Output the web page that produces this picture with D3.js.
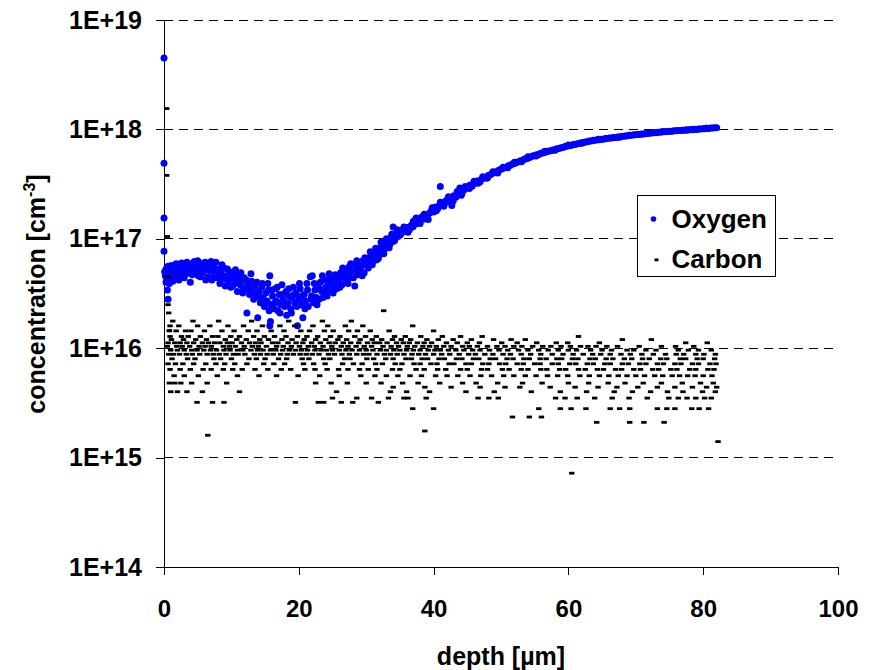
<!DOCTYPE html>
<html>
<head>
<meta charset="utf-8">
<script src="https://cdn.jsdelivr.net/npm/d3@7"></script>
<style>
  body { margin: 0; background: #fff; }
  text { font-family: "Liberation Sans", Arial, sans-serif; font-weight: bold; }
</style>
</head>
<body>
<div id="chart"></div>
<script>
// oxygen / carbon depth profile, log concentration vs depth

// axis ticks
var xTicks = [0, 20, 40, 60, 80, 100];
var yTicks = [1e14, 1e15, 1e16, 1e17, 1e18, 1e19];
var yTickLabels = ["1E+14", "1E+15", "1E+16", "1E+17", "1E+18", "1E+19"];
var seriesNames = ["Oxygen", "Carbon"];

// oxygen [depth um, conc cm-3]
var oxygenSurface = [[0, 4.5e18], [0, 4.9e17], [0, 1.55e17], [0, 7.7e16]];

var oxygenShallow = [
  [0.1, 5.0e16], [0.2, 4.6e16], [0.3, 5.3e16], [0.4, 4.3e16], [0.5, 3.4e16], [0.6, 2.8e16], [0.7, 4.8e16],
  [0.8, 3.9e16], [0.9, 5.1e16], [1.0, 4.5e16], [1.2, 4.9e16], [1.3, 4.1e16], [1.5, 5.2e16], [1.7, 4.7e16],
  [1.9, 5.4e16], [2.1, 4.9e16], [2.3, 5.1e16], [2.5, 4.6e16], [2.7, 5.5e16], [2.9, 5.0e16], [3.1, 5.3e16],
  [3.3, 4.8e16], [3.5, 5.6e16], [3.7, 5.1e16], [3.9, 4.0e16], [4.1, 5.9e16], [4.3, 5.4e16], [4.5, 6.2e16],
  [4.7, 5.0e16], [4.9, 5.7e16], [5.1, 4.6e16], [5.3, 6.0e16], [5.5, 5.3e16], [5.7, 4.9e16], [5.9, 5.8e16],
  [6.1, 6.1e16], [6.3, 5.2e16], [6.5, 4.5e16], [6.7, 6.0e16], [6.9, 5.1e16], [7.1, 4.2e16], [7.3, 5.6e16],
  [7.5, 4.8e16], [7.7, 6.1e16], [7.9, 4.4e16], [8.1, 5.3e16], [8.3, 3.9e16], [8.5, 4.9e16], [8.7, 4.3e16],
  [8.9, 5.4e16], [9.1, 3.7e16], [9.3, 4.6e16], [9.5, 4.1e16], [9.7, 5.0e16], [9.9, 3.6e16], [10.1, 4.4e16],
  [10.3, 4.8e16], [10.5, 3.9e16], [10.7, 4.2e16], [10.9, 3.3e16], [11.1, 4.6e16], [11.3, 3.8e16], [11.5, 4.1e16],
  [11.7, 3.2e16], [11.9, 4.4e16], [12.1, 3.6e16], [12.3, 2.1e16], [12.5, 3.9e16], [12.7, 3.1e16], [12.9, 4.8e16],
  [13.1, 3.5e16], [13.3, 2.8e16], [13.5, 3.7e16], [13.7, 3.0e16], [13.9, 1.9e16], [14.1, 3.3e16], [14.3, 2.6e16],
  [14.5, 3.6e16], [14.7, 2.9e16], [14.9, 2.4e16], [15.1, 3.2e16], [15.3, 2.7e16], [15.5, 3.4e16], [15.7, 1.6e16],
  [15.7, 4.6e16], [15.8, 1.75e16], [15.9, 2.5e16], [16.1, 3.0e16], [16.3, 2.3e16], [16.5, 3.5e16], [16.7, 2.7e16],
  [16.9, 2.2e16], [17.1, 3.1e16], [17.3, 2.5e16], [17.5, 3.8e16], [17.7, 2.8e16], [17.9, 2.4e16], [18.1, 3.3e16],
  [18.2, 2.0e16], [18.4, 2.6e16], [18.6, 3.0e16], [18.8, 2.3e16], [19.0, 2.9e16], [19.2, 3.6e16], [19.4, 2.6e16],
  [19.6, 3.2e16], [19.8, 1.6e16], [20.0, 2.8e16], [20.2, 3.5e16], [20.4, 2.5e16], [20.6, 1.9e16], [20.8, 3.1e16],
  [21.0, 2.7e16], [21.2, 3.9e16], [21.4, 2.4e16], [21.7, 4.5e16], [21.9, 3.0e16], [22.0, 4.6e16], [22.2, 2.6e16],
  [22.4, 3.4e16], [22.6, 2.9e16], [22.8, 3.7e16], [23.0, 2.8e16], [23.2, 4.0e16], [23.4, 3.3e16], [23.6, 2.9e16],
  [23.8, 4.2e16], [24.0, 3.6e16], [24.2, 3.0e16], [24.4, 3.9e16], [24.6, 4.4e16], [24.8, 3.4e16], [25.0, 4.1e16],
  [25.2, 3.7e16], [25.4, 4.7e16], [25.6, 3.5e16], [25.8, 4.3e16], [26.0, 4.0e16], [26.2, 4.9e16], [26.4, 3.8e16],
  [26.6, 4.5e16], [26.8, 5.2e16], [27.0, 4.2e16], [27.2, 4.8e16], [27.4, 5.5e16], [27.6, 4.4e16], [27.8, 5.0e16],
  [28.0, 5.8e16], [28.3, 3.7e16], [28.5, 5.3e16], [28.7, 4.7e16], [28.9, 6.0e16], [29.1, 5.1e16], [29.3, 5.6e16],
  [29.5, 6.3e16], [29.7, 4.9e16], [29.9, 5.9e16], [30.1, 6.6e16], [30.3, 5.4e16], [30.5, 6.2e16], [30.7, 7.0e16],
  [30.9, 5.8e16], [31.1, 6.8e16], [31.3, 7.4e16], [31.5, 6.4e16], [31.7, 7.8e16], [31.9, 7.0e16], [32.1, 8.3e16],
  [32.3, 7.5e16], [32.5, 8.8e16], [32.7, 8.0e16], [32.9, 9.2e16], [33.1, 8.5e16], [33.3, 9.7e16], [33.5, 8.9e16],
  [33.7, 1.03e17], [33.9, 9.4e16], [34.0, 1.28e17], [34.1, 1.08e17], [34.3, 1.0e17], [34.5, 1.13e17],
  [34.7, 1.05e17], [34.9, 1.18e17]
];

// second sweep of the same scattered band
var oxygenShallow2 = [
  [0.3, 4.0e16], [0.6, 5.6e16], [1.1, 5.7e16], [1.4, 4.3e16], [1.8, 5.9e16], [2.2, 4.2e16], [2.6, 6.0e16],
  [3.0, 4.4e16], [3.4, 6.1e16], [3.8, 5.6e16], [4.2, 4.7e16], [4.6, 5.6e16], [5.0, 6.3e16], [5.4, 4.5e16],
  [5.8, 5.3e16], [6.2, 4.2e16], [6.6, 5.5e16], [7.0, 6.2e16], [7.4, 4.5e16], [7.8, 5.2e16], [8.2, 4.6e16],
  [8.6, 5.8e16], [9.0, 4.5e16], [9.4, 5.3e16], [9.8, 4.3e16], [10.2, 3.7e16], [10.6, 5.2e16], [11.0, 4.0e16],
  [11.4, 4.9e16], [11.8, 3.5e16], [12.2, 4.2e16], [12.6, 3.4e16], [13.0, 4.1e16], [13.4, 3.2e16], [13.8, 4.0e16],
  [14.2, 2.9e16], [14.6, 3.9e16], [15.0, 2.6e16], [15.4, 3.9e16], [15.6, 2.2e16], [16.0, 3.4e16], [16.4, 2.6e16],
  [16.8, 3.6e16], [17.2, 2.1e16], [17.6, 3.1e16], [18.0, 2.6e16], [18.5, 3.5e16], [18.9, 2.1e16], [19.3, 3.1e16],
  [19.7, 2.4e16], [20.1, 3.9e16], [20.5, 3.0e16], [20.9, 2.3e16], [21.3, 3.4e16], [21.8, 2.8e16], [22.3, 3.9e16],
  [22.7, 2.5e16], [23.1, 3.5e16], [23.5, 4.6e16], [24.1, 3.3e16], [24.5, 4.8e16], [25.1, 3.2e16], [25.5, 4.2e16],
  [26.1, 3.6e16], [26.5, 5.4e16], [26.9, 4.6e16], [27.3, 3.9e16], [27.7, 5.9e16], [28.1, 4.4e16], [28.6, 6.3e16],
  [29.0, 5.4e16], [29.4, 4.6e16], [29.8, 6.7e16], [30.2, 5.9e16], [30.6, 7.6e16], [31.0, 6.3e16], [31.4, 8.2e16],
  [31.8, 6.6e16], [32.2, 9.3e16], [32.6, 7.3e16], [33.0, 1.0e17], [33.4, 8.3e16], [33.8, 1.1e17], [34.2, 9.6e16],
  [34.6, 1.21e17], [35.0, 1.08e17]
];

var oxygenDeep = [
  [35.2, 1.12e17], [35.5, 1.22e17], [35.8, 1.17e17], [36.1, 1.27e17], [36.4, 1.21e17], [36.7, 1.33e17],
  [37.0, 1.45e17], [37.3, 1.36e17], [37.6, 1.50e17], [37.9, 1.44e17], [38.2, 1.57e17], [38.5, 1.51e17],
  [38.8, 1.64e17], [39.1, 1.58e17], [39.4, 1.72e17], [39.7, 1.82e17], [40.0, 1.76e17], [40.3, 1.95e17],
  [40.6, 1.88e17], [40.9, 2.03e17], [41.0, 3.0e17], [41.2, 2.10e17], [41.5, 1.98e17], [41.8, 2.22e17],
  [42.1, 2.30e17], [42.4, 2.18e17], [42.7, 2.02e17], [42.8, 2.38e17], [43.0, 2.47e17], [43.3, 2.40e17],
  [43.6, 2.58e17], [43.9, 2.92e17], [44.0, 2.66e17], [44.2, 2.60e17], [44.5, 2.80e17], [44.8, 2.92e17],
  [45.1, 2.98e17], [45.4, 3.10e17], [45.7, 3.02e17], [46.0, 3.20e17], [46.3, 3.28e17], [46.6, 3.40e17],
  [46.9, 3.33e17], [47.2, 3.55e17], [47.5, 3.64e17], [47.8, 3.58e17], [48.1, 3.78e17], [48.4, 3.86e17],
  [48.7, 3.95e17], [49.0, 4.06e17], [49.3, 4.08e17], [49.6, 4.22e17], [49.9, 4.30e17], [50.2, 4.36e17],
  [50.5, 4.49e17], [50.8, 4.50e17], [51.1, 4.66e17], [51.4, 4.70e17], [51.7, 4.82e17], [52.0, 4.88e17],
  [52.3, 4.98e17], [52.6, 5.06e17], [52.9, 5.17e17], [53.2, 5.20e17], [53.5, 5.37e17], [53.8, 5.38e17],
  [54.1, 5.52e17], [54.4, 5.60e17], [54.7, 5.72e17], [55.0, 5.76e17], [55.3, 5.87e17], [55.6, 5.90e17],
  [55.9, 6.04e17], [56.2, 6.08e17], [56.5, 6.18e17], [56.8, 6.24e17], [57.1, 6.34e17], [57.4, 6.38e17],
  [57.7, 6.48e17], [58.0, 6.53e17], [58.3, 6.64e17], [58.6, 6.68e17], [58.9, 6.78e17], [59.2, 6.83e17],
  [59.5, 6.96e17], [59.8, 7.00e17], [60.1, 7.12e17], [60.4, 7.14e17], [60.7, 7.26e17], [61.0, 7.28e17],
  [61.3, 7.40e17], [61.6, 7.44e17], [61.9, 7.54e17], [62.2, 7.58e17], [62.5, 7.68e17], [62.8, 7.70e17],
  [63.1, 7.82e17], [63.4, 7.82e17], [63.7, 7.94e17], [64.0, 7.94e17], [64.3, 8.06e17], [64.6, 8.06e17],
  [64.9, 8.14e17], [65.2, 8.14e17], [65.5, 8.24e17], [65.8, 8.24e17], [66.1, 8.33e17], [66.4, 8.33e17],
  [66.7, 8.42e17], [67.0, 8.42e17], [67.3, 8.52e17], [67.6, 8.54e17], [67.9, 8.62e17], [68.2, 8.64e17],
  [68.5, 8.72e17], [68.8, 8.74e17], [69.1, 8.82e17], [69.4, 8.83e17], [69.7, 8.92e17], [70.0, 8.92e17],
  [70.3, 9.00e17], [70.6, 9.02e17], [70.9, 9.10e17], [71.2, 9.10e17], [71.5, 9.18e17], [71.8, 9.18e17],
  [72.1, 9.26e17], [72.4, 9.26e17], [72.7, 9.35e17], [73.0, 9.34e17], [73.3, 9.42e17], [73.6, 9.43e17],
  [73.9, 9.50e17], [74.2, 9.50e17], [74.5, 9.58e17], [74.8, 9.58e17], [75.1, 9.64e17], [75.4, 9.64e17],
  [75.7, 9.72e17], [76.0, 9.70e17], [76.3, 9.78e17], [76.6, 9.76e17], [76.9, 9.84e17], [77.2, 9.83e17],
  [77.5, 9.90e17], [77.8, 9.90e17], [78.1, 9.96e17], [78.4, 9.95e17], [78.7, 1.002e18], [79.0, 1.0e18],
  [79.3, 1.008e18], [79.6, 1.008e18], [79.9, 1.014e18], [80.2, 1.014e18], [80.5, 1.022e18], [80.8, 1.02e18],
  [81.1, 1.028e18], [81.4, 1.028e18], [81.7, 1.034e18], [82.0, 1.033e18]
];

var oxygenDeep2 = [
  [35.6, 1.28e17], [36.2, 1.15e17], [36.9, 1.28e17], [37.4, 1.55e17], [38.0, 1.38e17], [38.6, 1.68e17],
  [39.2, 1.50e17], [39.8, 1.92e17], [40.4, 1.80e17], [41.0, 2.16e17], [41.6, 2.08e17], [42.2, 2.42e17],
  [42.9, 2.22e17], [43.5, 2.70e17], [44.1, 2.50e17], [44.7, 3.0e17], [45.3, 2.88e17], [46.0, 3.36e17],
  [46.6, 3.22e17], [47.3, 3.70e17], [48.0, 3.62e17], [48.8, 4.1e17], [49.5, 4.0e17], [50.3, 4.5e17],
  [51.0, 4.45e17], [52.0, 5.0e17], [53.0, 5.05e17], [54.0, 5.62e17], [55.2, 5.70e17], [56.5, 6.3e17],
  [58.0, 6.45e17], [60.0, 7.2e17], [62.0, 7.48e17], [64.5, 8.12e17], [67.5, 8.48e17], [70.5, 8.98e17],
  [74.0, 9.52e17], [77.5, 9.86e17], [80.5, 1.026e18]
];

// carbon: counts are quantised, so points sit on rows [conc cm-3, depths um]
var carbonRows = [
  [1.77e16, [1.3, 4.3, 8.1, 13.0, 18.5, 23.5, 27.8]],
  [1.6e16, [0.9, 2.2, 5.0, 6.8, 9.5, 11.8, 14.6, 17.2, 19.4, 22.1, 24.3, 26.9, 29.5, 36.9]],
  [1.44e16, [0.8, 1.8, 3.2, 4.0, 6.0, 8.6, 10.4, 12.5, 13.8, 15.9, 17.8, 20.3, 21.6, 23.8, 25.1, 27.4, 28.7, 30.6, 33.4, 40.0]],
  [1.28e16, [0.9, 2.6, 3.6, 5.4, 7.2, 8.0, 9.9, 11.2, 13.3, 14.9, 16.4, 18.1, 19.8, 21.2, 22.8, 24.7, 26.1, 28.3, 29.9,
    31.5, 34.2, 35.8, 38.1, 41.3, 44.0, 47.2, 61.5]],
  [1.2e16, [1.1, 2.9, 4.7, 6.3, 9.1, 10.8, 12.2, 14.2, 15.5, 17.5, 19.0, 20.8, 22.5, 24.0, 25.8, 27.1, 29.1, 30.9, 32.3,
    33.9, 35.2, 36.6, 39.0, 40.7, 42.9, 45.6, 48.9, 51.5, 53.6, 68.0, 72.3]],
  [1.12e16, [0.6, 1.6, 2.4, 3.4, 4.4, 5.7, 6.6, 7.5, 8.3, 9.4, 10.1, 11.5, 12.7, 13.6, 14.4, 16.1, 16.9, 18.4, 19.6,
    20.6, 21.9, 23.2, 24.5, 25.4, 26.6, 27.7, 28.9, 30.2, 31.2, 32.0, 33.1, 34.5, 35.5, 36.4, 37.6, 38.6, 39.7,
    41.9, 43.5, 45.0, 46.8, 50.1, 52.4, 55.3, 58.2, 59.9, 64.6, 77.4, 80.6]],
  [1.04e16, [0.5, 1.9, 2.7, 3.8, 5.2, 6.1, 7.0, 8.8, 9.7, 10.6, 11.9, 13.1, 14.0, 15.2, 16.7, 17.7, 18.9, 20.1, 21.4,
    22.3, 23.6, 24.9, 26.3, 27.3, 28.5, 29.7, 30.8, 32.5, 33.7, 34.8, 36.1, 37.2, 38.4, 39.4, 40.4, 41.5, 42.6,
    44.3, 45.3, 46.5, 48.0, 49.4, 50.6, 51.9, 53.1, 54.7, 56.2, 57.4, 58.9, 60.3, 61.8, 62.9, 64.1, 65.7, 67.3,
    70.5, 73.8, 75.9, 78.6]],
  [9.6e15, [1.0, 2.0, 3.0, 4.1, 4.9, 5.9, 6.9, 7.8, 8.9, 9.8, 10.9, 11.7, 12.9, 13.9, 14.7, 15.8, 16.6, 17.6, 18.6,
    19.5, 20.4, 21.3, 22.4, 23.3, 24.1, 25.0, 26.0, 27.0, 27.9, 29.0, 30.0, 31.0, 32.1, 33.0, 34.1, 35.0, 36.0,
    37.0, 38.0, 39.2, 40.2, 41.0, 42.2, 43.3, 44.5, 45.8, 46.9, 48.3, 49.7, 51.0, 52.6, 54.0, 55.6, 57.0, 58.5,
    60.0, 61.2, 63.3, 65.0, 66.4, 68.7, 69.7, 71.5, 73.0, 76.3, 77.8, 79.3, 81.2]],
  [8.8e15, [0.7, 1.4, 2.3, 3.3, 4.2, 5.3, 6.4, 7.3, 8.2, 9.2, 10.3, 11.0, 12.0, 13.4, 14.3, 15.3, 16.2, 17.3, 18.3,
    19.2, 20.2, 21.1, 22.0, 23.0, 24.4, 25.3, 26.4, 27.5, 28.6, 29.6, 30.4, 31.6, 32.7, 33.6, 34.6, 35.6, 36.8,
    37.8, 38.8, 40.0, 41.2, 42.4, 43.8, 45.2, 46.2, 47.6, 48.8, 50.3, 51.4, 53.0, 54.4, 55.9, 57.6, 59.2, 60.7,
    62.2, 63.6, 64.8, 66.2, 67.8, 69.2, 70.9, 72.6, 74.4, 76.0, 77.1, 78.9, 80.1, 81.8]],
  [8.0e15, [1.2, 3.5, 4.6, 7.4, 8.4, 10.0, 12.6, 13.7, 15.0, 17.0, 18.2, 20.5, 21.5, 23.7, 24.6, 26.8, 27.6, 30.1,
    31.1, 32.9, 34.0, 35.9, 36.7, 38.3, 39.1, 40.8, 41.6, 43.4, 44.2, 45.9, 46.7, 48.4, 49.2, 50.9, 51.8, 53.4,
    54.2, 55.8, 56.7, 58.3, 59.0, 60.6, 61.4, 63.2, 64.0, 65.6, 66.6, 68.3, 69.4, 71.0, 72.0, 73.7, 74.6, 76.6,
    77.4, 79.1, 80.0, 81.7]],
  [7.2e15, [0.6, 1.7, 2.8, 4.4, 6.2, 7.7, 9.0, 10.5, 12.3, 14.8, 16.3, 17.9, 20.7, 22.2, 23.9, 26.5, 28.1, 29.4,
    31.4, 32.4, 34.3, 35.3, 37.1, 38.0, 39.6, 40.5, 42.3, 43.0, 44.8, 45.6, 47.3, 48.2, 49.8, 50.7, 52.4, 53.3,
    55.0, 55.8, 57.6, 58.5, 60.2, 61.1, 62.8, 63.7, 65.4, 66.2, 68.0, 68.9, 70.6, 71.5, 73.2, 74.1, 75.8, 76.7,
    78.4, 79.3, 81.0, 81.9]],
  [6.4e15, [0.9, 2.4, 3.9, 5.8, 7.0, 8.8, 10.2, 11.6, 13.5, 15.4, 17.4, 18.8, 20.9, 22.4, 24.2, 25.9, 27.3, 29.0,
    30.3, 31.6, 33.9, 35.0, 37.4, 38.6, 40.6, 41.8, 44.0, 45.0, 47.1, 48.0, 50.2, 51.2, 53.0, 54.0, 55.9, 56.8,
    58.7, 59.6, 61.5, 62.5, 64.3, 65.2, 67.0, 67.9, 69.7, 70.7, 72.5, 73.4, 75.2, 76.1, 78.0, 78.9, 80.7, 81.6]],
  [5.6e15, [1.5, 3.0, 5.1, 7.9, 10.9, 14.1, 16.7, 19.9, 23.1, 26.0, 29.2, 31.3, 33.0, 34.7, 36.5, 38.2, 40.3, 42.0,
    43.6, 45.4, 47.0, 48.6, 50.4, 51.9, 53.6, 55.2, 56.9, 58.4, 59.9, 61.7, 63.1, 64.6, 66.0, 67.4, 68.7, 70.0,
    71.3, 72.8, 74.0, 75.4, 76.5, 77.7, 78.8, 80.0, 81.3]],
  [4.8e15, [0.8, 1.6, 2.5, 4.1, 6.4, 9.3, 22.5, 24.8, 27.2, 30.0, 32.2, 35.4, 37.7, 40.9, 44.3, 46.3, 49.5, 53.2,
    56.1, 60.0, 63.0, 65.9, 68.4, 71.1, 73.8, 76.9, 79.6, 81.5]],
  [4.4e15, [34.0, 38.7, 42.6, 46.9, 50.6, 52.8, 57.3, 61.0, 64.4, 67.2, 70.3, 73.2, 75.8, 78.4, 80.5, 82.0]],
  [4.0e15, [1.0, 2.0, 3.4, 5.7, 11.2, 25.6, 33.6, 36.0, 39.4, 44.8, 49.0, 54.5, 58.8, 62.7, 66.8, 69.5, 72.2, 74.7,
    77.0, 79.9, 81.8]],
  [3.5e15, [25.0, 28.6, 30.8, 33.3, 35.6, 36.2, 38.9, 46.6, 48.2, 49.6, 58.1, 59.5, 61.3, 63.9, 66.5, 69.0, 71.7,
    74.9, 76.3, 77.6, 78.9, 80.2, 81.2]],
  [3.2e15, [4.9, 7.2, 8.9, 19.5, 22.9, 23.7, 26.3, 28.0, 31.8]],
  [2.8e15, [36.9, 40.0, 55.6, 58.8, 60.4, 62.6, 66.2, 67.6, 69.1, 73.2, 74.6, 75.8, 78.3, 79.4, 80.8]],
  [2.35e15, [51.7, 54.2, 56.0]],
  [2.1e15, [64.2, 69.1, 71.2, 74.2]]
];

// carbon points off the rows [depth um, conc cm-3]
var carbonSingles = [
  [0.4, 1.55e18], [0.4, 3.8e17], [0.5, 1.05e17], [0.6, 4.5e16], [0.6, 2.5e16], [0.7, 2.1e16],
  [0.8, 1.45e16], [32.6, 2.2e16], [6.5, 1.6e15], [38.7, 1.75e15], [82.2, 1.4e15], [60.5, 7.2e14]
];

var width = 870, height = 670;
var svg = d3.select("#chart").append("svg")
    .attr("width", width).attr("height", height);

var x = d3.scaleLinear().domain([0, 100]).range([164, 838]);
var y = d3.scaleLog().domain([1e14, 1e19]).range([567, 20]);

// dashed gridlines
svg.append("g").selectAll("line")
    .data(yTicks.slice(1))
    .enter().append("line")
    .attr("x1", x(0)).attr("x2", x(100))
    .attr("y1", function(d){ return y(d); })
    .attr("y2", function(d){ return y(d); })
    .attr("stroke", "#000").attr("stroke-width", 1)
    .attr("stroke-dasharray", "9,6")
    .attr("shape-rendering", "crispEdges");

// axes
var xAxis = svg.append("g").attr("transform", "translate(0," + y(1e14) + ")")
    .call(d3.axisBottom(x).tickValues(xTicks).tickSize(8).tickSizeOuter(0).tickPadding(25));
var yAxis = svg.append("g").attr("transform", "translate(" + x(0) + ",0)")
    .call(d3.axisLeft(y).tickValues(yTicks).tickSize(8).tickSizeOuter(0).tickPadding(14)
        .tickFormat(function(d, i){ return yTickLabels[i]; }));
[xAxis, yAxis].forEach(function(a){
  a.selectAll("path, line").attr("stroke", "#000").attr("shape-rendering", "crispEdges");
  a.selectAll("text").attr("fill", "#000").style("font-family", null);
});
xAxis.attr("font-size", null).selectAll("text").attr("font-size", 24);
yAxis.attr("font-size", null).selectAll("text").attr("font-size", 25);

// oxygen dots
var oxygen = oxygenSurface.concat(oxygenShallow, oxygenShallow2, oxygenDeep, oxygenDeep2);
svg.append("g").selectAll("circle")
    .data(oxygen)
    .enter().append("circle")
    .attr("cx", function(d){ return x(d[0]); })
    .attr("cy", function(d){ return y(d[1]); })
    .attr("r", 3.5)
    .attr("fill", "#0000ff");

// carbon dashes
var carbon = carbonSingles.slice();
carbonRows.forEach(function(row){
  row[1].forEach(function(dep){ carbon.push([dep, row[0]]); });
});
svg.append("g").selectAll("rect")
    .data(carbon)
    .enter().append("rect")
    .attr("x", function(d){ return x(d[0]) - 2.7; })
    .attr("y", function(d){ return y(d[1]) - 1.4; })
    .attr("width", 5.4).attr("height", 2.8)
    .attr("fill", "#000");

// axis titles
svg.append("text")
    .attr("x", 501).attr("y", 665)
    .attr("text-anchor", "middle").attr("font-size", 25)
    .text("depth [\u00b5m]");

var yTitle = svg.append("text")
    .attr("transform", "translate(45,294) rotate(-90)")
    .attr("text-anchor", "middle").attr("font-size", 25);
yTitle.append("tspan").text("concentration [cm");
yTitle.append("tspan").attr("font-size", 16).attr("dy", -10).text("-3");
yTitle.append("tspan").attr("dy", 10).text("]");

// legend
var legend = svg.append("g").attr("transform", "translate(637.5,195.5)");
legend.append("rect").attr("width", 138).attr("height", 81)
    .attr("fill", "#fff").attr("stroke", "#000").attr("stroke-width", 1);
var items = legend.selectAll(".item").data(seriesNames)
    .enter().append("g").attr("class", "item")
    .attr("transform", function(d, i){ return "translate(0," + (23.5 + i * 40) + ")"; });
items.append("text").attr("x", 34).attr("y", 9)
    .attr("font-size", 26).text(function(d){ return d; });
items.filter(function(d, i){ return i === 0; }).append("circle")
    .attr("cx", 16).attr("cy", 0).attr("r", 2.8).attr("fill", "#0000ff");
items.filter(function(d, i){ return i === 1; }).append("rect")
    .attr("x", 17).attr("y", -0.5).attr("width", 4).attr("height", 2.8).attr("fill", "#000");
</script>
</body>
</html>
